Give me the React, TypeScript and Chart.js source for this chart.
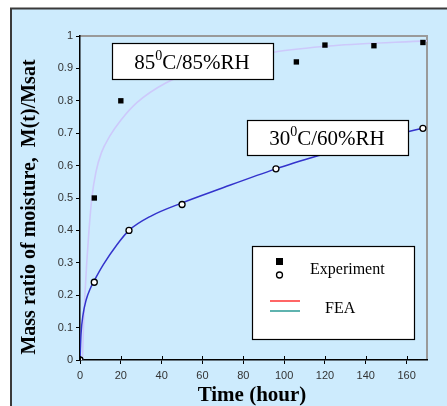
import React, { useEffect, useRef } from "react";
import { Chart, registerables } from "chart.js";

Chart.register(...registerables);

// Experiment 85C/85%RH (squares)
const exp85X = [0, 7, 20, 106, 120, 144, 168];
const exp85Y = [0, 0.5, 0.8, 0.92, 0.972, 0.97, 0.98];
// Experiment 30C/60%RH (circles)
const exp30X = [0, 7, 24, 50, 96, 168];
const exp30Y = [0, 0.24, 0.4, 0.48, 0.59, 0.715];
// FEA 85C/85%RH curve
const fea85X = [1.2, 1.7, 2.4, 3.3, 4.4, 5.8, 7.8, 10.5, 14.5, 20, 28, 42, 60, 95, 124, 170];
const fea85Y = [0, 0.1, 0.2, 0.3, 0.4, 0.5, 0.58, 0.64, 0.69, 0.74, 0.795, 0.855, 0.9, 0.95, 0.97, 0.985];
// FEA 30C/60%RH curve
const fea30X = [0, 0.5, 1.5, 3, 5, 7, 11.5, 18, 24, 35, 50, 68, 96, 118, 140, 168];
const fea30Y = [0, 0.08, 0.14, 0.185, 0.22, 0.245, 0.295, 0.355, 0.4, 0.445, 0.485, 0.527, 0.59, 0.633, 0.673, 0.715];

const xTicks = [0, 20, 40, 60, 80, 100, 120, 140, 160];
const yTicks = [0, 0.1, 0.2, 0.3, 0.4, 0.5, 0.6, 0.7, 0.8, 0.9, 1];

const label85 = ["85", "0", "C/85%RH"];
const label30 = ["30", "0", "C/60%RH"];
const legendExp = "Experiment";
const legendFea = "FEA";
const xTitle = "Time (hour)";
const yTitle = "Mass ratio of moisture,  M(t)/Msat";

const BG = "#cdebfd";

const pts = (xs: number[], ys: number[]) => xs.map((x, i) => ({ x, y: ys[i] }));

function drawSupLabel(ctx: CanvasRenderingContext2D, parts: string[], cx: number, cy: number) {
  const big = "21px 'Liberation Serif', 'Times New Roman', serif";
  const small = "14px 'Liberation Serif', 'Times New Roman', serif";
  ctx.font = big;
  const w1 = ctx.measureText(parts[0]).width;
  const w3 = ctx.measureText(parts[2]).width;
  ctx.font = small;
  const w2 = ctx.measureText(parts[1]).width;
  const total = w1 + w2 + w3;
  let x = cx - total / 2;
  ctx.fillStyle = "#000";
  ctx.textAlign = "left";
  ctx.textBaseline = "alphabetic";
  ctx.font = big;
  ctx.fillText(parts[0], x, cy + 8);
  x += w1;
  ctx.font = small;
  ctx.fillText(parts[1], x, cy - 1);
  x += w2;
  ctx.font = big;
  ctx.fillText(parts[2], x, cy + 8);
}

function box(ctx: CanvasRenderingContext2D, x: number, y: number, w: number, h: number) {
  ctx.fillStyle = "#fff";
  ctx.fillRect(x, y, w, h);
  ctx.strokeStyle = "#000";
  ctx.lineWidth = 1.2;
  ctx.strokeRect(x + 0.5, y + 0.5, w, h);
}

const decorPlugin = {
  id: "decor",
  beforeDraw(chart: any) {
    const ctx = chart.ctx as CanvasRenderingContext2D;
    ctx.save();
    ctx.fillStyle = "#fff";
    ctx.fillRect(0, 0, chart.width, chart.height);
    ctx.fillStyle = BG;
    ctx.fillRect(11, 8, chart.width + 10, chart.height + 10);
    ctx.strokeStyle = "#3a3a3a";
    ctx.lineWidth = 2;
    ctx.strokeRect(11, 8.5, chart.width + 20, chart.height + 20);
    const a = chart.chartArea;
    ctx.strokeStyle = "#9a9a9a";
    ctx.lineWidth = 2;
    ctx.beginPath();
    ctx.moveTo(a.left, a.top);
    ctx.lineTo(a.right, a.top);
    ctx.lineTo(a.right, a.bottom);
    ctx.stroke();
    ctx.restore();
  },
  afterDatasetsDraw(chart: any) {
    const ctx = chart.ctx as CanvasRenderingContext2D;
    const a = chart.chartArea;
    const xs = chart.scales.x;
    ctx.save();
    // inward ticks on x axis
    ctx.strokeStyle = "#000";
    ctx.lineWidth = 1;
    for (const v of xTicks) {
      const px = Math.round(xs.getPixelForValue(v)) + 0.5;
      ctx.beginPath();
      ctx.moveTo(px, a.bottom);
      ctx.lineTo(px, a.bottom - 4);
      ctx.stroke();
    }
    // annotation boxes
    box(ctx, 112, 43, 161, 36);
    drawSupLabel(ctx, label85, 192, 61);
    box(ctx, 247, 120, 161, 35);
    drawSupLabel(ctx, label30, 327, 137);
    // legend
    box(ctx, 252, 246, 162, 93);
    ctx.fillStyle = "#000";
    ctx.fillRect(276, 258, 7, 7);
    ctx.beginPath();
    ctx.arc(279.5, 275, 3, 0, Math.PI * 2);
    ctx.fillStyle = "#fff";
    ctx.fill();
    ctx.strokeStyle = "#000";
    ctx.lineWidth = 1.3;
    ctx.stroke();
    ctx.fillStyle = "#000";
    ctx.font = "16px 'Liberation Serif', 'Times New Roman', serif";
    ctx.textAlign = "left";
    ctx.textBaseline = "middle";
    ctx.fillText(legendExp, 310, 270);
    ctx.fillText(legendFea, 325, 309);
    ctx.lineWidth = 1.5;
    ctx.strokeStyle = "#ff3333";
    ctx.beginPath();
    ctx.moveTo(270, 301);
    ctx.lineTo(300, 301);
    ctx.stroke();
    ctx.strokeStyle = "#2a9a95";
    ctx.beginPath();
    ctx.moveTo(270, 311);
    ctx.lineTo(300, 311);
    ctx.stroke();
    // titles
    ctx.fillStyle = "#000";
    ctx.font = "bold 21px 'Liberation Serif', 'Times New Roman', serif";
    ctx.textAlign = "center";
    ctx.textBaseline = "middle";
    ctx.fillText(xTitle, 252, 396);
    ctx.translate(30, 207);
    ctx.rotate(-Math.PI / 2);
    ctx.font = "bold 20px 'Liberation Serif', 'Times New Roman', serif";
    ctx.fillText(yTitle, 0, 0);
    ctx.restore();
  },
};

export default function App() {
  const ref = useRef<HTMLCanvasElement | null>(null);
  useEffect(() => {
    if (!ref.current) return;
    const tickFont = { family: "'Liberation Sans', Arial, sans-serif", size: 11 };
    const chart = new Chart(ref.current, {
      type: "scatter",
      data: {
        datasets: [
          {
            label: "FEA 85",
            data: pts(fea85X, fea85Y),
            showLine: true,
            borderColor: "#cdc9fb",
            borderWidth: 1.6,
            pointRadius: 0,
            cubicInterpolationMode: "monotone",
            order: 4,
          },
          {
            label: "FEA 30",
            data: pts(fea30X, fea30Y),
            showLine: true,
            borderColor: "#3333cc",
            borderWidth: 1.5,
            pointRadius: 0,
            cubicInterpolationMode: "monotone",
            order: 3,
          },
          {
            label: "Exp 85",
            data: pts(exp85X, exp85Y),
            showLine: false,
            pointStyle: "rect",
            pointRadius: 3.8,
            backgroundColor: "#000",
            borderColor: "#000",
            borderWidth: 0,
            order: 2,
          },
          {
            label: "Exp 30",
            data: pts(exp30X, exp30Y),
            showLine: false,
            pointStyle: "circle",
            pointRadius: 3,
            backgroundColor: "#fff",
            borderColor: "#000",
            borderWidth: 1.3,
            order: 1,
          },
        ],
      },
      options: {
        animation: false,
        responsive: false,
        maintainAspectRatio: false,
        layout: { padding: { left: 50, top: 36, right: 20, bottom: 24 } },
        plugins: { legend: { display: false }, tooltip: { enabled: false } },
        scales: {
          x: {
            type: "linear",
            min: 0,
            max: 170,
            afterBuildTicks: (s: any) => {
              s.ticks = xTicks.map((v) => ({ value: v }));
            },
            afterFit: (s: any) => {
              s.height = 22;
            },
            grid: { display: true, drawOnChartArea: false, drawTicks: true, tickLength: 4, color: "#000", lineWidth: 1 },
            border: { display: true, color: "#000", width: 1.5 },
            ticks: { color: "#333", font: tickFont, padding: 5, maxRotation: 0, autoSkip: false, callback: (v: any) => String(Number(v)) },
          },
          y: {
            type: "linear",
            min: 0,
            max: 1,
            afterBuildTicks: (s: any) => {
              s.ticks = yTicks.map((v) => ({ value: v }));
            },
            afterFit: (s: any) => {
              s.width = 30;
            },
            grid: { display: true, drawOnChartArea: false, drawTicks: true, tickLength: 4, color: "#000", lineWidth: 1 },
            border: { display: true, color: "#000", width: 1.5 },
            ticks: { color: "#333", font: tickFont, padding: 3, autoSkip: false, callback: (v: any) => String(Math.round(Number(v) * 10) / 10) },
          },
        },
      },
      plugins: [decorPlugin],
    } as any);
    return () => chart.destroy();
  }, []);
  return (
    <div style={{ position: "fixed", left: 0, top: 0, width: 447, height: 406 }}>
      <canvas ref={ref} width={447} height={406} style={{ width: 447, height: 406, display: "block" }} />
    </div>
  );
}
